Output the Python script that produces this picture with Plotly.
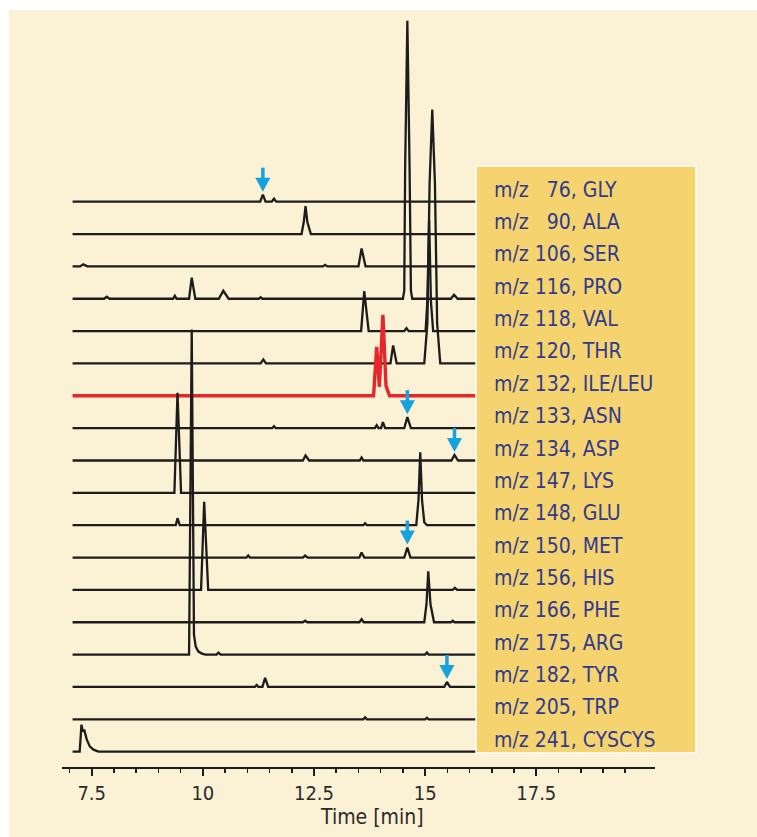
import numpy as np
import plotly.graph_objects as go

# ---------------- data ----------------
mz_values = [76, 90, 106, 116, 118, 120, 132, 133, 134, 147, 148, 150, 156, 166, 175, 182, 205, 241]
compounds = ["GLY", "ALA", "SER", "PRO", "VAL", "THR", "ILE/LEU", "ASN", "ASP",
             "LYS", "GLU", "MET", "HIS", "PHE", "ARG", "TYR", "TRP", "CYSCYS"]

gly_t = [7.07, 11.29, 11.35, 11.41, 11.55, 11.60, 11.65, 19.5]
gly_h = [0, 0, 7, 0, 0, 3, 0, 0]
ala_t = [7.07, 12.22, 12.27, 12.31, 12.35, 12.43, 19.5]
ala_h = [0, 0, 12, 28, 12, 0, 0]
ser_t = [7.07, 7.24, 7.31, 7.40, 12.70, 12.75, 12.80, 13.50, 13.57, 13.66, 19.5]
ser_h = [0, 0, 2, 0, 0, 1.5, 0, 0, 18, 0, 0]
pro_t = [7.07, 7.78, 7.84, 7.90, 9.33, 9.37, 9.41, 9.69, 9.75, 9.83, 10.36, 10.46, 10.58,
         11.26, 11.30, 11.34, 14.50, 14.53, 14.55, 14.60, 14.65, 14.68, 14.71, 15.58, 15.65, 15.73, 19.5]
pro_h = [0, 0, 2, 0, 0, 3, 0, 0, 21, 0, 0, 8, 0,
         0, 1.5, 0, 0, 8, 131, 278, 131, 8, 0, 0, 4, 0, 0]
val_t = [7.07, 13.56, 13.63, 13.73, 14.53, 14.58, 14.63, 15.01, 15.05, 15.09, 15.13, 15.18, 19.5]
val_h = [0, 0, 40, 0, 0, 3, 0, 0, 30, 111, 30, 0, 0]
thr_t = [7.07, 11.30, 11.36, 11.42, 14.22, 14.28, 14.36, 14.98, 15.05, 15.10, 15.16, 15.22, 15.27, 15.34, 19.5]
thr_h = [0, 0, 4, 0, 0, 18, 0, 0, 40, 180, 254, 180, 40, 0, 0]
ile_t = [7.07, 13.84, 13.91, 13.97, 14.05, 14.12, 14.20, 19.5]
ile_h = [0, 0, 49, 9, 81, 10, 0, 0]
asn_t = [7.07, 11.56, 11.60, 11.64, 13.87, 13.91, 13.95, 14.01, 14.05, 14.10, 14.53, 14.60, 14.68, 19.5]
asn_h = [0, 0, 2, 0, 0, 3, 0, 0, 6, 0, 0, 11, 0, 0]
asp_t = [7.07, 12.25, 12.31, 12.39, 13.53, 13.57, 13.61, 15.59, 15.66, 15.74, 19.5]
asp_h = [0, 0, 5, 0, 0, 3, 0, 0, 5.5, 0, 0]
lys_t = [7.07, 9.36, 9.43, 9.51, 19.5]
lys_h = [0, 0, 100, 0, 0]
glu_t = [7.07, 9.39, 9.43, 9.48, 13.61, 13.65, 13.69, 14.80, 14.85, 14.89, 14.93, 14.98, 15.04, 19.5]
glu_h = [0, 0, 7, 0, 0, 2, 0, 0, 25, 73, 25, 3, 0, 0]
met_t = [7.07, 10.98, 11.02, 11.06, 12.25, 12.30, 12.36, 13.52, 13.57, 13.63, 14.53, 14.60, 14.67, 19.5]
met_h = [0, 0, 2, 0, 0, 2, 0, 0, 5, 0, 0, 10, 0, 0]
his_t = [7.07, 9.96, 10.03, 10.12, 15.62, 15.67, 15.72, 19.5]
his_h = [0, 0, 88, 0, 0, 2, 0, 0]
phe_t = [7.07, 12.25, 12.30, 12.35, 13.52, 13.57, 13.62, 14.98, 15.03, 15.07, 15.12, 15.20, 15.58, 15.62, 15.66, 19.5]
phe_h = [0, 0, 1.5, 0, 0, 3, 0, 0, 18, 51, 18, 0, 0, 1.5, 0, 0]
arg_t = [7.07, 9.69, 9.75, 9.80, 9.84, 9.90, 9.98, 10.06, 10.31, 10.35, 10.40, 15.00, 15.04, 15.08, 19.5]
arg_h = [0, 0, 325, 20, 8, 3, 1, 0, 0, 2, 0, 0, 2, 0, 0]
tyr_t = [7.07, 11.17, 11.21, 11.25, 11.34, 11.40, 11.47, 15.43, 15.49, 15.56, 19.5]
tyr_h = [0, 0, 2, 0, 0, 9, 0, 0, 5, 0, 0]
trp_t = [7.07, 13.61, 13.65, 13.69, 15.00, 15.04, 15.08, 19.5]
trp_h = [0, 0, 2, 0, 0, 1.5, 0, 0]
cys_t = [7.07, 7.23, 7.27, 7.30, 7.33, 7.39, 7.46, 7.54, 7.65, 19.5]
cys_h = [0, 0, 27, 20, 22, 12, 5, 2, 0, 0]

arrow_trace = [0, 7, 8, 11, 15]
arrow_time = [11.35, 14.60, 15.66, 14.60, 15.49]

major_ticks = [7.5, 10, 12.5, 15, 17.5]
tick_labels = ["7.5", "10", "12.5", "15", "17.5"]
minor_ticks = [7.0, 7.5, 8.0, 8.5, 9.0, 9.5, 10.0, 10.5, 11.0, 11.5, 12.0, 12.5, 13.0,
               13.5, 14.0, 14.5, 15.0, 15.5, 16.0, 16.5, 17.0, 17.5, 18.0, 18.5, 19.0, 19.5]
x_title = "Time [min]"

series_t = [gly_t, ala_t, ser_t, pro_t, val_t, thr_t, ile_t, asn_t, asp_t,
            lys_t, glu_t, met_t, his_t, phe_t, arg_t, tyr_t, trp_t, cys_t]
series_h = [gly_h, ala_h, ser_h, pro_h, val_h, thr_h, ile_h, asn_h, asp_h,
            lys_h, glu_h, met_h, his_h, phe_h, arg_h, tyr_h, trp_h, cys_h]

# ---------------- style / layout ----------------
W, H = 757, 837
ML, MT, MB = 62, 10, 70
PW = 593
MR = W - ML - PW
PH = H - MT - MB
AXIS_Y = 767                 # axis line position in page pixels
XR = [6.832, 20.17]
PXMIN = PW / (XR[1] - XR[0])
BASE0 = 565.3                # vertical offset of first trace (pixels above axis)
STEP = 32.35                 # spacing of stacked traces


def px_x(p):                 # page pixel -> paper x
    return (p - ML) / PW


def px_y(p):                 # page pixel -> paper y
    return (AXIS_Y - p) / PH


CREAM = "#FBF1D4"
BOX = "#F5D36E"
LABEL = "#2F3A8E"
BLACK = "#1c1c1c"
RED = "#E5262A"
CYAN = "#14A3DD"
FONT = "Liberation Sans Narrow, Arial Narrow, DejaVu Sans Condensed, Roboto, sans-serif"

fig = go.Figure()
offsets = []
for i, (t, h) in enumerate(zip(series_t, series_h)):
    off = BASE0 - STEP * i
    offsets.append(off)
    is_red = compounds[i] == "ILE/LEU"
    fig.add_trace(go.Scatter(
        x=t, y=np.array(h, dtype=float) + off, mode="lines",
        line=dict(color=RED if is_red else BLACK, width=3.4 if is_red else 2.3),
        hoverinfo="skip", showlegend=False))

shapes = []
# thin white frame strips (top and left)
shapes.append(dict(type="rect", xref="paper", yref="paper",
                   x0=px_x(-2), x1=px_x(9), y0=px_y(900), y1=px_y(-2),
                   fillcolor="white", line=dict(width=0), layer="below"))
shapes.append(dict(type="rect", xref="paper", yref="paper",
                   x0=px_x(-2), x1=px_x(800), y0=px_y(10), y1=px_y(-2),
                   fillcolor="white", line=dict(width=0), layer="below"))
# label box
shapes.append(dict(type="rect", xref="paper", yref="paper",
                   x0=px_x(476), x1=px_x(696), y0=px_y(753), y1=px_y(166),
                   fillcolor=BOX, line=dict(color="white", width=1.5), layer="above"))

# arrows
ARROW_GAP, TRI_H, TRI_HW, STEM_L = 3, 14, 7.5, 10
for ti, at in zip(arrow_trace, arrow_time):
    peak = np.interp(at, series_t[ti], series_h[ti]) + offsets[ti]
    tip = peak + ARROW_GAP
    base = tip + TRI_H
    hw = TRI_HW / PXMIN
    shapes.append(dict(type="path", xref="x", yref="y",
                       path=f"M {at - hw},{base} L {at + hw},{base} L {at},{tip} Z",
                       fillcolor=CYAN, line=dict(width=0), layer="above"))
    shapes.append(dict(type="line", xref="x", yref="y", x0=at, x1=at, y0=base - 1, y1=base + STEM_L,
                       line=dict(color=CYAN, width=3.5), layer="above"))

annotations = []
for i, (mz, name) in enumerate(zip(mz_values, compounds)):
    num = str(mz).rjust(3, "\u2007")
    annotations.append(dict(xref="paper", yref="y", x=px_x(492), y=offsets[i] + 12,
                            text=f"m/z {num}, {name}",
                            xanchor="left", yanchor="middle", showarrow=False,
                            font=dict(family=FONT, size=21, color=LABEL)))
annotations.append(dict(xref="paper", yref="paper", x=px_x(372), y=px_y(817), text=x_title,
                        xanchor="center", yanchor="middle", showarrow=False,
                        font=dict(family=FONT, size=21, color="#2a2a2a")))

fig.update_layout(
    width=W, height=H, autosize=False,
    margin=dict(l=ML, r=MR, t=MT, b=MB, pad=0),
    paper_bgcolor=CREAM, plot_bgcolor=CREAM,
    shapes=shapes, annotations=annotations, showlegend=False,
    xaxis=dict(range=XR, showgrid=False, zeroline=False,
               showline=True, linecolor=BLACK, linewidth=2,
               tickmode="array", tickvals=major_ticks, ticktext=tick_labels,
               ticks="outside", ticklen=7, tickwidth=2, tickcolor=BLACK,
               tickfont=dict(family=FONT, size=20, color="#2a2a2a"),
               minor=dict(tickmode="array", tickvals=minor_ticks, ticks="outside",
                          ticklen=4, tickwidth=1.5, tickcolor=BLACK, showgrid=False)),
    yaxis=dict(range=[0, PH], visible=False, showgrid=False, zeroline=False, fixedrange=True),
)

fig.write_html("out.html",
               config={"displayModeBar": False, "staticPlot": True},
               post_script="document.body.style.margin='0';"
                           "document.documentElement.style.overflow='hidden';"
                           "document.body.style.overflow='hidden';")
